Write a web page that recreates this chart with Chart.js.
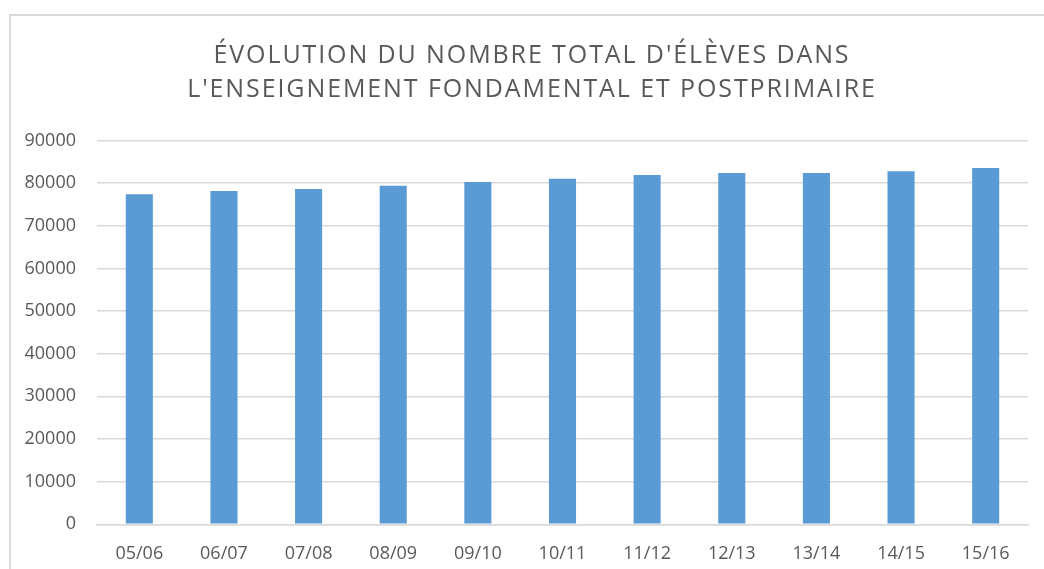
<!DOCTYPE html>
<html>
<head>
<meta charset="utf-8">
<script src="https://cdn.jsdelivr.net/npm/chart.js@4"></script>
<style>
  html, body { margin: 0; padding: 0; background: #fff; overflow: hidden; }
  #frame { position: absolute; left: 9px; top: 14px; width: 2000px; height: 2000px; border: 2px solid #d9d9d9; }
  #chart { position: absolute; left: 0; top: 0; }
  #title {
    position: absolute; left: 0; width: 1064px; top: 36px; text-align: center;
    font-family: 'Open Sans', sans-serif; font-size: 25px; line-height: 34px;
    letter-spacing: 1.9px; color: #595959; white-space: nowrap;
  }
</style>
</head>
<body>
<div id="frame"></div>
<canvas id="chart" width="1044" height="569"></canvas>
<div id="title"></div>
<script>
// school years and number of pupils
const years = ['05/06', '06/07', '07/08', '08/09', '09/10', '10/11', '11/12', '12/13', '13/14', '14/15', '15/16'];
const pupils = [77390, 78170, 78630, 79410, 80280, 81050, 81920, 82390, 82370, 82790, 83560];
const titleLines = ["ÉVOLUTION DU NOMBRE TOTAL D'ÉLÈVES DANS", "L'ENSEIGNEMENT FONDAMENTAL ET POSTPRIMAIRE"];

const grey = '#595959';

// title as html text so letter spacing can follow the original
const titleDiv = document.getElementById('title');
titleLines.forEach(t => {
    const line = document.createElement('div');
    line.textContent = t;
    titleDiv.appendChild(line);
});

const ctx = document.getElementById('chart').getContext('2d');

new Chart(ctx, {
    type: 'bar',
    data: {
        labels: years,
        datasets: [{
            data: pupils,
            backgroundColor: '#5b9bd5',
            barPercentage: 0.32,
            categoryPercentage: 1
        }]
    },
    options: {
        responsive: false,
        devicePixelRatio: 1,
        animation: false,
        layout: { padding: { left: 0, right: 16, top: 140.5, bottom: 0 } },
        plugins: {
            legend: { display: false },
            tooltip: { enabled: false },
            title: { display: false }
        },
        scales: {
            x: {
                grid: { display: false },
                border: { display: true, color: '#d9d9d9', width: 1.5 },
                ticks: { color: grey, font: { family: 'Open Sans', size: 18 }, padding: 11, maxRotation: 0 },
                afterFit: (s) => { s.height = 44.7; }
            },
            y: {
                min: 0,
                max: 90000,
                grid: { color: '#d9d9d9', lineWidth: 1.5, drawTicks: false },
                border: { display: false },
                ticks: {
                    stepSize: 10000, color: grey, font: { family: 'Open Sans', size: 18 }, padding: 21,
                    callback: (v) => String(v) // no thousands separator
                },
                afterFit: (s) => { s.width = 97; }
            }
        }
    }
});
</script>
</body>
</html>
